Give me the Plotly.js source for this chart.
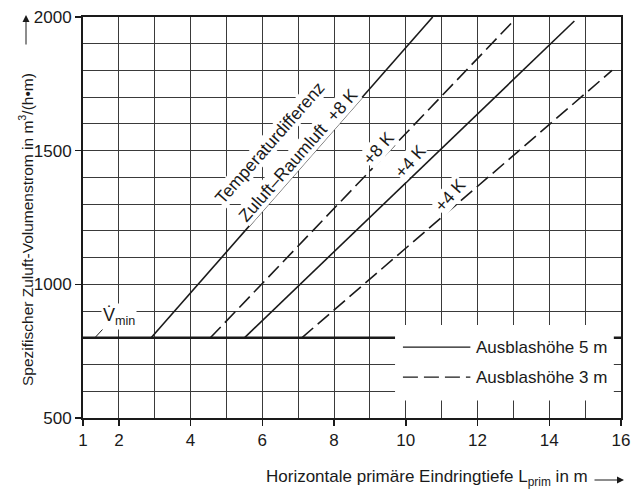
<!DOCTYPE html>
<html>
<head>
<meta charset="utf-8">
<script src="https://cdn.plot.ly/plotly-3.0.1.min.js"></script>
<style>html,body{margin:0;padding:0;background:#fff;}#chart{width:643px;height:492px;}</style>
</head>
<body>
<div id="chart"></div>
<script>
// ---- data ----
const vminX = [1, 16];
const vminY = [800, 800];
const h5_8K_x = [2.9, 10.75];
const h5_8K_y = [800, 2000];
const h3_8K_x = [4.55, 13.0];
const h3_8K_y = [800, 1985];
const h5_4K_x = [5.5, 14.7];
const h5_4K_y = [800, 1985];
const h3_4K_x = [7.1, 15.75];
const h3_4K_y = [800, 1800];
const xTickVals = [1, 2, 4, 6, 8, 10, 12, 14, 16];
const yTickVals = [500, 1000, 1500, 2000];
const legendNames = ['Ausblashöhe 5 m', 'Ausblashöhe 3 m'];

const FONT = '"Liberation Sans", Arial, sans-serif';
const INK = '#1a1a1a';
const DASH = '15px,6px';

function line(x, y, dash, w) {
  return {x: x, y: y, type: 'scatter', mode: 'lines', showlegend: false, hoverinfo: 'skip',
    line: {color: INK, width: w || 1.6, dash: dash || 'solid'}};
}

const traces = [
  line(vminX, vminY, 'solid', 2.4),
  line(h5_8K_x, h5_8K_y, 'solid'),
  line(h3_8K_x, h3_8K_y, DASH),
  line(h5_4K_x, h5_4K_y, 'solid'),
  line(h3_4K_x, h3_4K_y, DASH)
];

const ANG = -48.7;
function lab(text, x, y, extra) {
  return Object.assign({text: text, x: x, y: y, xref: 'x', yref: 'y', showarrow: false,
    xanchor: 'center', yanchor: 'middle',
    textangle: ANG, bgcolor: '#fff', borderpad: 0, font: {family: FONT, size: 17.5, color: INK}}, extra || {});
}

const annotations = [
  lab('Temperaturdifferenz', 6.2, 1530),
  lab('Zuluft–Raumluft  +8 K', 7.0, 1484),
  lab('+8 K', 9.24, 1510),
  lab('+4 K', 10.13, 1460),
  lab('+4 K', 11.24, 1333),
  {text: 'V̇<sub>min</sub>', x: 1.0 + (119 - 83.2) / 35.9, y: 878, xref: 'x', yref: 'y', showarrow: false,
    xanchor: 'center', yanchor: 'middle',
    bgcolor: '#fff', borderpad: 1, font: {family: FONT, size: 18, color: INK}},
  // legend texts
  {text: legendNames[0], x: 11.9, y: 765, xref: 'x', yref: 'y', xanchor: 'left', yanchor: 'middle', showarrow: false,
    font: {family: FONT, size: 17, color: INK}},
  {text: legendNames[1], x: 11.9, y: 653, xref: 'x', yref: 'y', xanchor: 'left', yanchor: 'middle', showarrow: false,
    font: {family: FONT, size: 17, color: INK}},
  // axis titles
  {text: 'Spezifischer Zuluft-Volumenstrom in m<sup>3</sup>/(h•m)', xref: 'paper', yref: 'paper',
    x: (26 - 83) / 538, y: (418 - 230) / 401, xanchor: 'center', yanchor: 'middle',
    textangle: -90, showarrow: false, font: {family: FONT, size: 15.5, color: INK}},
  {text: 'Horizontale primäre Eindringtiefe L<sub>prim</sub> in m', xref: 'paper', yref: 'paper',
    x: (590 - 83) / 538, y: (418 - 478) / 401, xanchor: 'right', yanchor: 'middle',
    showarrow: false, font: {family: FONT, size: 17, color: INK}},
  // arrows
  {text: '', xref: 'paper', yref: 'paper', x: (26 - 83) / 538, y: (418 - 15) / 401, ax: 0, ay: 31,
    showarrow: true, arrowhead: 2, arrowsize: 1.4, arrowwidth: 1, arrowcolor: INK},
  {text: '', xref: 'paper', yref: 'paper', x: (624 - 83) / 538, y: (418 - 480) / 401, ax: -31, ay: 0,
    showarrow: true, arrowhead: 2, arrowsize: 1.4, arrowwidth: 1, arrowcolor: INK}
];

const shapes = [
  // white legend box covering grid
  {type: 'rect', xref: 'x', yref: 'y', x0: 9.7, x1: 15.8, y0: 565, y1: 848, layer: 'above',
    fillcolor: '#fff', line: {width: 0}},
  {type: 'line', xref: 'x', yref: 'y', x0: 9.92, x1: 11.8, y0: 765, y1: 765, layer: 'above',
    line: {color: INK, width: 1.4}},
  {type: 'line', xref: 'x', yref: 'y', x0: 9.92, x1: 11.8, y0: 653, y1: 653, layer: 'above',
    line: {color: INK, width: 1.4, dash: DASH}},
  // Vmin leader
  {type: 'line', xref: 'x', yref: 'y', x0: 1.33, x1: 1.64, y0: 800, y1: 845, layer: 'above',
    line: {color: INK, width: 1}}
];

const layout = {
  width: 643, height: 492,
  margin: {l: 83, r: 22, t: 17, b: 74},
  paper_bgcolor: '#fff', plot_bgcolor: '#fff',
  showlegend: false,
  font: {family: FONT, size: 17, color: INK},
  xaxis: {range: [1, 16], tickvals: xTickVals, ticktext: xTickVals.map(String),
    showgrid: true, gridcolor: '#3a3a3a', gridwidth: 1.1,
    minor: {dtick: 1, tick0: 0, showgrid: true, gridcolor: '#3a3a3a', gridwidth: 1.1},
    showline: true, linecolor: INK, linewidth: 2, mirror: true,
    ticks: 'outside', ticklen: 6, tickwidth: 1.5, tickcolor: INK,
    tickfont: {family: FONT, size: 17, color: INK}, zeroline: false, fixedrange: true},
  yaxis: {range: [500, 2000], tickvals: yTickVals, ticktext: yTickVals.map(String),
    showgrid: true, gridcolor: '#3a3a3a', gridwidth: 1.1,
    minor: {dtick: 100, tick0: 0, showgrid: true, gridcolor: '#3a3a3a', gridwidth: 1.1},
    showline: true, linecolor: INK, linewidth: 2, mirror: true,
    ticks: 'outside', ticklen: 6, tickwidth: 1.5, tickcolor: INK,
    tickfont: {family: FONT, size: 17, color: INK}, zeroline: false, fixedrange: true},
  annotations: annotations,
  shapes: shapes
};

Plotly.newPlot('chart', traces, layout, {staticPlot: true, displayModeBar: false});
</script>
</body>
</html>
